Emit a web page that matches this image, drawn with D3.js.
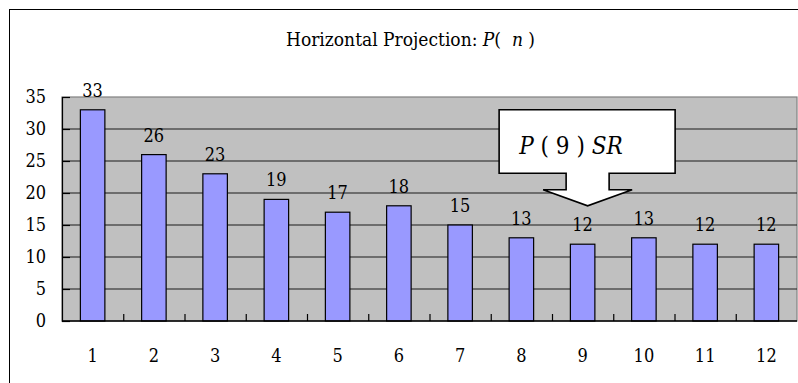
<!DOCTYPE html>
<html>
<head>
<meta charset="utf-8">
<script src="https://cdn.jsdelivr.net/npm/d3@7"></script>
<style>
  html, body { margin: 0; padding: 0; background: #fff; }
  svg { display: block; }
</style>
</head>
<body>
<svg id="chart" width="798" height="383"></svg>
<script>
// Horizontal projection counts P(n) for n = 1..12
const categories = [1, 2, 3, 4, 5, 6, 7, 8, 9, 10, 11, 12];
const values = [33, 26, 23, 19, 17, 18, 15, 13, 12, 13, 12, 12];
const yTicks = [0, 5, 10, 15, 20, 25, 30, 35];
const calloutCategory = 9;

const FONT = "'DejaVu Serif Condensed', 'DejaVu Serif', serif";
const svg = d3.select("#chart");
const plot = { left: 62, right: 797, top: 97, bottom: 321 };

// outer chart frame (runs past the right and bottom edges)
svg.append("rect")
  .attr("x", 9.5).attr("y", 9.5)
  .attr("width", 800).attr("height", 400)
  .attr("fill", "#fff").attr("stroke", "#000").attr("stroke-width", 1);

const x = d3.scaleBand().domain(categories).range([plot.left, plot.right]).paddingInner(0.6).paddingOuter(0.3);
const xEdges = d3.scaleLinear().domain([0, categories.length]).range([plot.left, plot.right]);
const y = d3.scaleLinear().domain([0, 35]).range([plot.bottom, plot.top]);

// plot area
svg.append("rect")
  .attr("x", plot.left).attr("y", plot.top)
  .attr("width", plot.right - plot.left).attr("height", plot.bottom - plot.top)
  .attr("fill", "#c0c0c0").attr("stroke", "#808080").attr("stroke-width", 1.2);

// gridlines
svg.append("g").selectAll("line")
  .data(yTicks.filter(d => d > 0 && d < 35)).join("line")
  .attr("x1", plot.left).attr("x2", plot.right)
  .attr("y1", d => y(d)).attr("y2", d => y(d))
  .attr("stroke", "#1a1a1a").attr("stroke-width", 1.1);

// y axis, ticks pointing inward
const yAxis = svg.append("g").attr("transform", `translate(${plot.left},0)`)
  .call(d3.axisLeft(y).tickValues(yTicks).tickSize(-8).tickPadding(16));
yAxis.select(".domain").attr("stroke", "#000").attr("stroke-width", 1.2);
yAxis.selectAll(".tick line").attr("stroke", "#000").attr("stroke-width", 1.2);
yAxis.selectAll(".tick text").style("font-family", FONT).attr("font-size", 18).attr("fill", "#000");

// bars
svg.append("g").selectAll("rect").data(values).join("rect")
  .attr("x", (d, i) => x(categories[i])).attr("y", d => y(d))
  .attr("width", x.bandwidth()).attr("height", d => y(0) - y(d))
  .attr("fill", "#9999ff").attr("stroke", "#000").attr("stroke-width", 1.2);

// value labels
svg.append("g").selectAll("text").data(values).join("text")
  .attr("x", (d, i) => x(categories[i]) + x.bandwidth() / 2)
  .attr("y", d => y(d) - 13)
  .attr("text-anchor", "middle")
  .style("font-family", FONT)
  .attr("font-size", 18).attr("fill", "#000")
  .text(d => d);

// category boundary ticks
const xTickAxis = svg.append("g").attr("transform", `translate(0,${plot.bottom})`)
  .call(d3.axisBottom(xEdges).tickValues(d3.range(1, categories.length)).tickSize(-7).tickFormat(""));
xTickAxis.select(".domain").remove();
xTickAxis.selectAll(".tick line").attr("stroke", "#000").attr("stroke-width", 1.2);

// x axis line and labels
const xAxis = svg.append("g").attr("transform", `translate(0,${plot.bottom})`)
  .call(d3.axisBottom(x).tickSize(0).tickPadding(28));
xAxis.select(".domain").attr("stroke", "#000").attr("stroke-width", 1.6).attr("d", `M${plot.left},0H${plot.right}`);
xAxis.selectAll(".tick text").style("font-family", FONT).attr("font-size", 18).attr("fill", "#000");

// title
const title = svg.append("text")
  .attr("x", 410.5).attr("y", 46).attr("text-anchor", "middle")
  .style("font-family", FONT)
  .attr("font-size", 19).attr("fill", "#000").attr("xml:space", "preserve");
title.append("tspan").text("Horizontal Projection: ");
title.append("tspan").attr("font-style", "italic").text("P");
title.append("tspan").text("(  ");
title.append("tspan").attr("font-style", "italic").text("n");
title.append("tspan").text(" )");

// callout arrow pointing down at the highlighted category
const tipX = x(calloutCategory) + x.bandwidth() / 2 + 5;
const tipY = y(18);
const c = {
  left: tipX - 88.5, right: tipX + 87.5, top: tipY - 96, bottom: tipY - 32.5,
  stemL: tipX - 21.5, stemR: tipX + 21.5, headY: tipY - 16, headL: tipX - 44.5, headR: tipX + 44.5
};
const p = d3.path();
p.moveTo(c.left, c.top); p.lineTo(c.right, c.top); p.lineTo(c.right, c.bottom);
p.lineTo(c.stemR, c.bottom); p.lineTo(c.stemR, c.headY); p.lineTo(c.headR, c.headY);
p.lineTo(tipX, tipY); p.lineTo(c.headL, c.headY); p.lineTo(c.stemL, c.headY);
p.lineTo(c.stemL, c.bottom); p.lineTo(c.left, c.bottom); p.closePath();
svg.append("path").attr("d", p.toString()).attr("fill", "#fff")
  .attr("stroke", "#000").attr("stroke-width", 1.6);

const ctext = svg.append("text")
  .attr("x", c.left + 20).attr("y", tipY - 51.7)
  .style("font-family", FONT)
  .attr("font-size", 24).attr("fill", "#000").attr("xml:space", "preserve");
ctext.append("tspan").attr("font-style", "italic").text("P");
ctext.append("tspan").text(" ( 9 ) ");
ctext.append("tspan").attr("font-style", "italic").text("SR");
</script>
</body>
</html>
